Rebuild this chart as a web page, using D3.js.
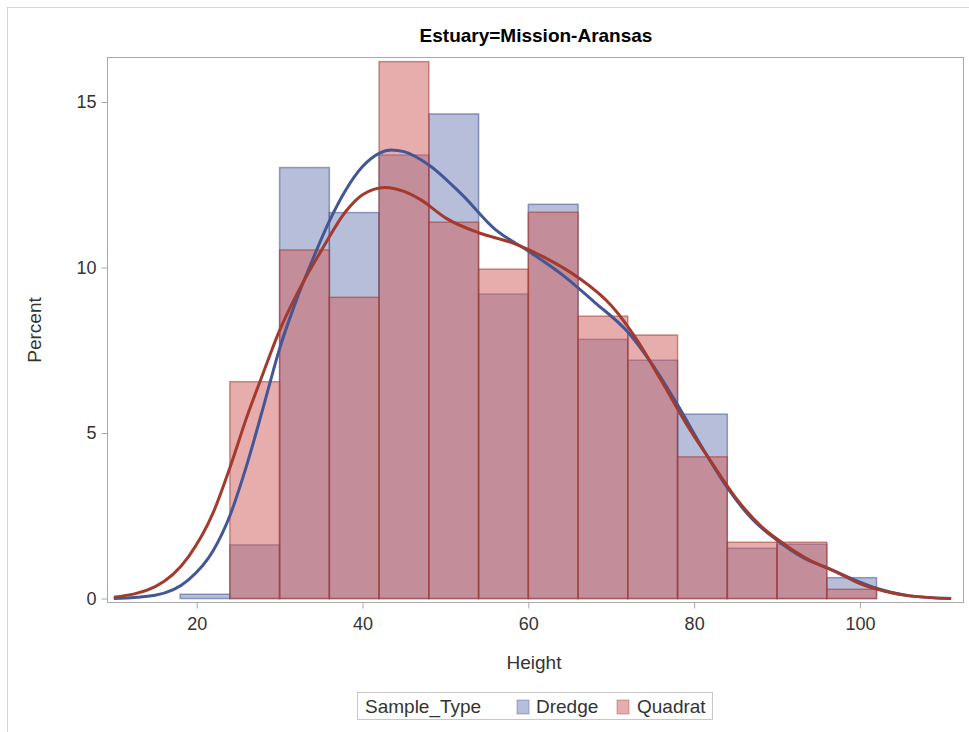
<!DOCTYPE html>
<html>
<head>
<meta charset="utf-8">
<script src="https://cdn.jsdelivr.net/npm/d3@7"></script>
<style>
    body { margin: 0; background: #fff; }
    svg { display: block; font-family: "Liberation Sans", Arial, sans-serif; }
</style>
</head>
<body>
<svg id="chart" width="969" height="732"></svg>
<script>
// histogram bins (lower edge, width 6)
const binStarts = [18, 24, 30, 36, 42, 48, 54, 60, 66, 72, 78, 84, 90, 96];
const binWidth = 6;

// percent per bin
const dredgePct  = [0.13, 1.62, 13.02, 11.66, 13.4, 14.64, 9.2, 11.91, 7.83, 7.2, 5.57, 1.52, 1.64, 0.63];
const quadratPct = [0, 6.55, 10.53, 9.1, 16.22, 11.37, 9.95, 11.67, 8.53, 7.96, 4.28, 1.7, 1.7, 0.28];

// kernel density curves
const dredgeKdeX = [10, 15, 19, 22, 24, 26, 28, 30, 32, 34, 36, 38, 40, 42, 43.5, 45, 48, 52, 56, 60, 64, 68, 72, 75, 78, 81, 84, 87, 90, 93, 96, 99, 102, 106, 111];
const dredgeKdeY = [0, 0.1, 0.56, 1.45, 2.5, 4.0, 5.75, 7.55, 9.0, 10.25, 11.4, 12.35, 13.05, 13.45, 13.55, 13.5, 13.1, 12.2, 11.15, 10.5, 9.8, 8.95, 8.05, 7.05, 5.85, 4.55, 3.35, 2.4, 1.76, 1.26, 0.93, 0.6, 0.31, 0.08, 0];
const quadratKdeX = [10, 15, 19, 22, 24, 26, 28, 30, 32.5, 35, 38, 40, 42.7, 45, 47, 50, 54, 58, 62, 66, 70, 73, 76, 79, 82, 85, 88, 91, 94, 97, 100, 103, 106, 111];
const quadratKdeY = [0.04, 0.36, 1.26, 2.6, 3.95, 5.45, 6.8, 8.1, 9.4, 10.5, 11.7, 12.2, 12.42, 12.3, 12.05, 11.5, 11.05, 10.75, 10.3, 9.7, 8.85, 7.85, 6.6, 5.3, 4.15, 3.05, 2.2, 1.62, 1.15, 0.82, 0.45, 0.22, 0.08, 0];

const xTicks = [20, 40, 60, 80, 100];
const yTicks = [0, 5, 10, 15];

// style (SAS HTMLBlue-like)
const fillColor = { Dredge: "#6F7EB3", Quadrat: "#D05B5B" };
const lineColor = { Dredge: "#445694", Quadrat: "#A23A2E" };

const cfg = {
    left: 107, right: 963, top: 57, bottom: 602,
    axisColor: "#a8a8a8", textColor: "#333"
};

const svg = d3.select("#chart");

// outer frame
svg.append("rect")
    .attr("x", 7.5).attr("y", 7.5)
    .attr("width", 980).attr("height", 740)
    .attr("fill", "none").attr("stroke", "#d4d4d4");

// scales
const x = d3.scaleLinear().domain([9.18, 112.43]).range([cfg.left, cfg.right]);
const y = d3.scaleLinear().domain([-0.105, 16.36]).range([cfg.bottom, cfg.top]);

// title
svg.append("text")
    .attr("x", 536).attr("y", 42)
    .attr("text-anchor", "middle")
    .attr("font-size", "19px").attr("font-weight", "bold")
    .attr("fill", "#000")
    .text("Estuary=Mission-Aransas");

// bars
const bars = (vals, name) => {
    svg.append("g").attr("class", "bars-" + name)
        .selectAll("rect")
        .data(binStarts.map((s, i) => ({ s, v: vals[i] })).filter(d => d.v > 0))
        .join("rect")
        .attr("x", d => x(d.s))
        .attr("y", d => y(d.v))
        .attr("width", d => x(d.s + binWidth) - x(d.s))
        .attr("height", d => y(0) - y(d.v))
        .attr("fill", fillColor[name]).attr("fill-opacity", 0.5)
        .attr("stroke", lineColor[name]).attr("stroke-opacity", 0.55)
        .attr("stroke-width", 1.5);
};
bars(dredgePct, "Dredge");
bars(quadratPct, "Quadrat");

// density lines
const line = d3.line()
    .x(d => x(d[0])).y(d => y(d[1]))
    .curve(d3.curveMonotoneX);

const kde = (xs, ys, name) => {
    svg.append("path")
        .datum(xs.map((v, i) => [v, ys[i]]))
        .attr("fill", "none")
        .attr("stroke", lineColor[name])
        .attr("stroke-width", 3)
        .attr("stroke-linejoin", "round")
        .attr("d", line);
};
kde(dredgeKdeX, dredgeKdeY, "Dredge");
kde(quadratKdeX, quadratKdeY, "Quadrat");

// plot wall
svg.append("rect")
    .attr("x", cfg.left + 0.5).attr("y", cfg.top + 0.5)
    .attr("width", cfg.right - cfg.left).attr("height", cfg.bottom - cfg.top)
    .attr("fill", "none").attr("stroke", cfg.axisColor);

// x axis
const xAxis = svg.append("g")
    .attr("transform", `translate(0, ${cfg.bottom + 0.5})`)
    .call(d3.axisBottom(x).tickValues(xTicks).tickSize(6).tickPadding(9).tickSizeOuter(0))
    .call(g => g.select(".domain").remove());
xAxis.selectAll("line").attr("stroke", cfg.axisColor);
xAxis.selectAll("text").attr("font-size", "18px").attr("fill", cfg.textColor)
    .attr("font-family", "Liberation Sans, Arial, sans-serif");

// y axis
const yAxis = svg.append("g")
    .attr("transform", `translate(${cfg.left + 0.5}, 0)`)
    .call(d3.axisLeft(y).tickValues(yTicks).tickSize(6).tickPadding(5).tickSizeOuter(0))
    .call(g => g.select(".domain").remove());
yAxis.selectAll("line").attr("stroke", cfg.axisColor);
yAxis.selectAll("text").attr("font-size", "18px").attr("fill", cfg.textColor)
    .attr("font-family", "Liberation Sans, Arial, sans-serif");

// axis labels
svg.append("text")
    .attr("x", 534).attr("y", 669)
    .attr("text-anchor", "middle")
    .attr("font-size", "19px").attr("fill", cfg.textColor)
    .text("Height");

svg.append("text")
    .attr("transform", `translate(41, ${330}) rotate(-90)`)
    .attr("text-anchor", "middle")
    .attr("font-size", "19px").attr("fill", cfg.textColor)
    .text("Percent");

// legend
const legend = svg.append("g").attr("transform", "translate(357, 692)");
legend.append("rect")
    .attr("x", 0.5).attr("y", 0.5).attr("width", 355).attr("height", 27)
    .attr("fill", "#fff").attr("stroke", "#c8c8c8");
legend.append("text")
    .attr("x", 8).attr("y", 21)
    .attr("font-size", "19px").attr("fill", cfg.textColor)
    .text("Sample_Type");

const items = [{ name: "Dredge", sx: 160, tx: 179 }, { name: "Quadrat", sx: 260, tx: 280 }];
items.forEach(it => {
    legend.append("rect")
        .attr("x", it.sx).attr("y", 8).attr("width", 12).attr("height", 14)
        .attr("fill", fillColor[it.name]).attr("fill-opacity", 0.5)
        .attr("stroke", lineColor[it.name]).attr("stroke-opacity", 0.4);
    legend.append("text")
        .attr("x", it.tx).attr("y", 21)
        .attr("font-size", "19px").attr("fill", cfg.textColor)
        .text(it.name);
});
</script>
</body>
</html>
